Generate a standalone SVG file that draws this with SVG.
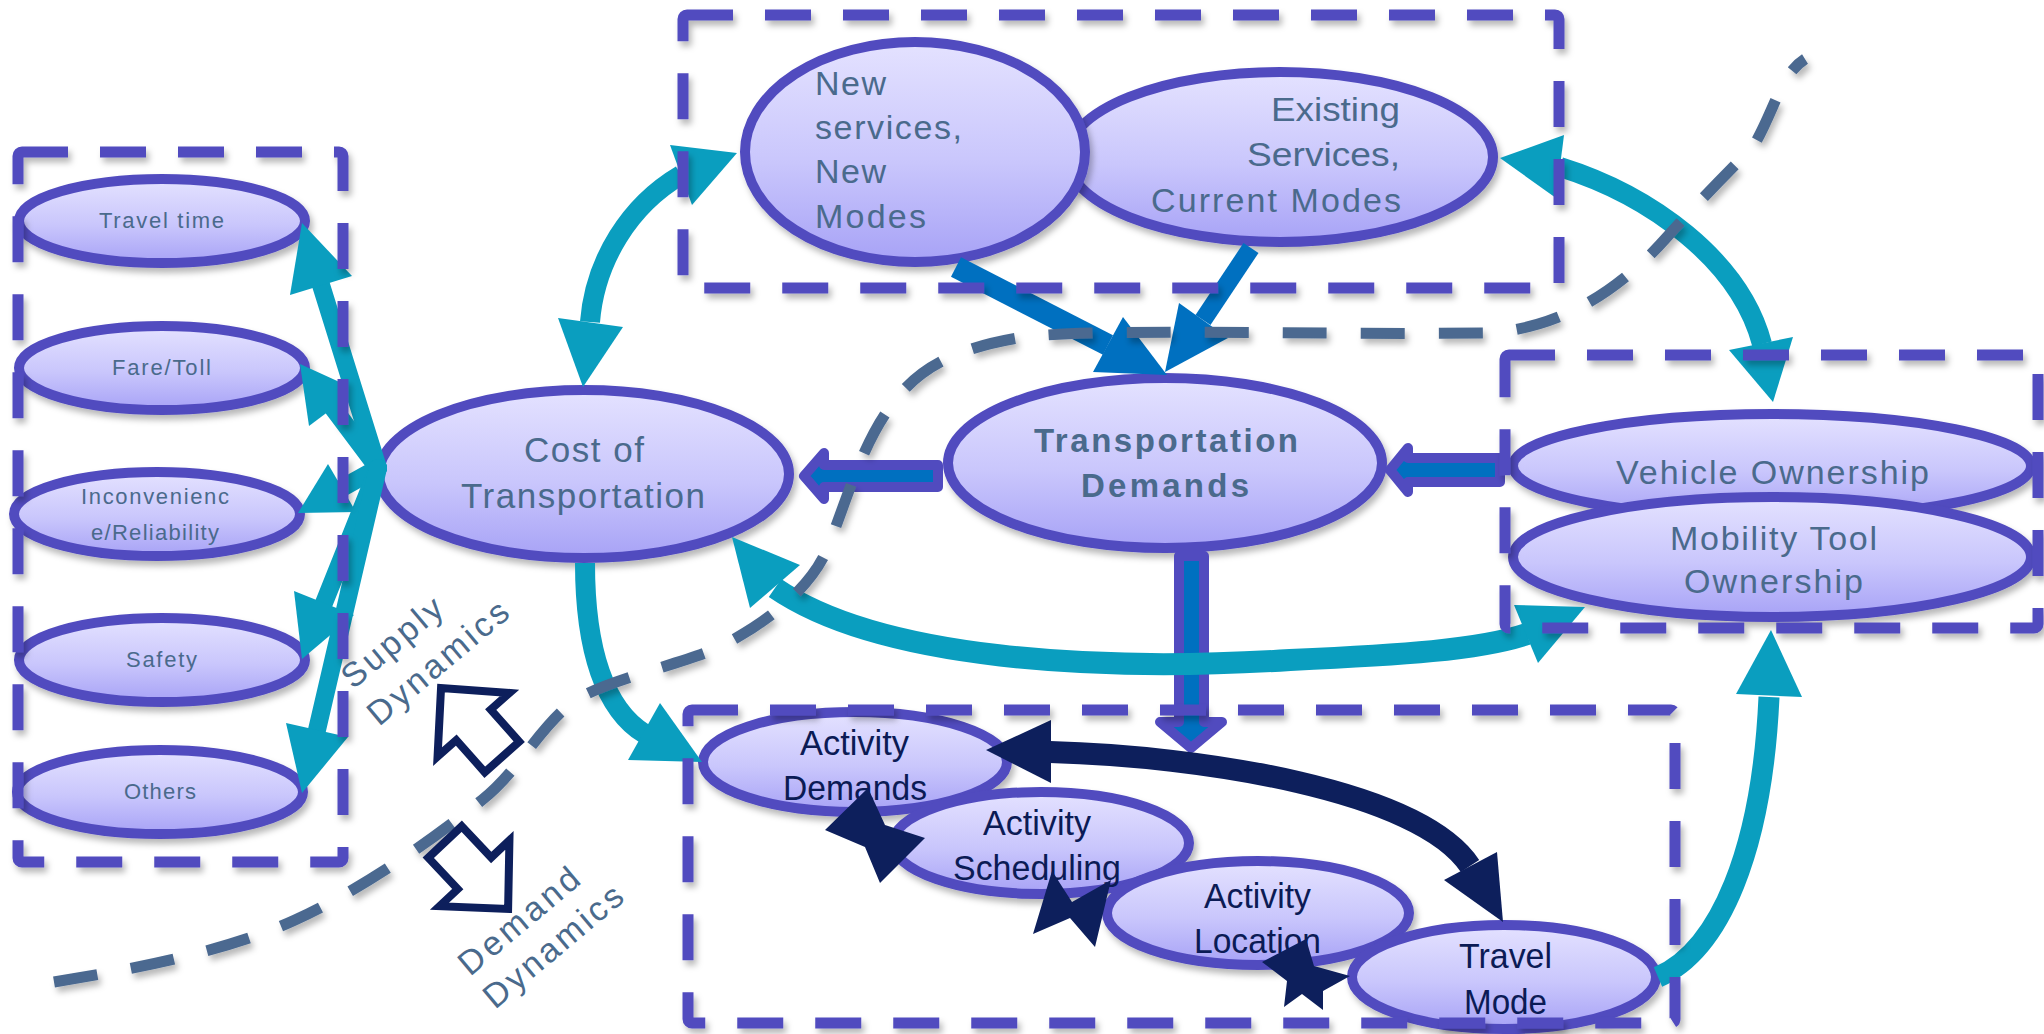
<svg xmlns="http://www.w3.org/2000/svg" width="2044" height="1034" viewBox="0 0 2044 1034">
  <defs>
    <linearGradient id="nodeFill" x1="0" y1="0" x2="0" y2="1">
      <stop offset="0" stop-color="#E4E2FF"/>
      <stop offset="0.55" stop-color="#C9C6FC"/>
      <stop offset="1" stop-color="#A7A2F6"/>
    </linearGradient>
    <filter id="shadow" x="-10%" y="-10%" width="125%" height="135%">
      <feDropShadow dx="3" dy="5" stdDeviation="3" flood-color="#000" flood-opacity="0.28"/>
    </filter>
    <style>
      .node ellipse { fill: url(#nodeFill); stroke: #514BBF; stroke-width: 10; filter: url(#shadow); }
      .lbl { font-family: "Liberation Sans", Arial, sans-serif; fill: #4A6A8C; }
      .small { font-size: 22px; }
      .big { font-size: 34px; }
      .bold { font-weight: bold; font-size: 33px; }
      .act { font-family: "Liberation Sans", Arial, sans-serif; font-size: 35px; fill: #0B1B55; }
      .teal { fill: none; stroke: #0A9EBF; }
      .tealHead { fill: #0A9EBF; }
      .blue { fill: none; stroke: #0070C0; }
      .blueHead { fill: #0070C0; }
      .navy { fill: none; stroke: #0D1F5C; }
      .navyHead { fill: #0D1F5C; }
      .block { fill: #0070C0; stroke: #514BBF; stroke-width: 10; stroke-linejoin: round; }
      .hollow { fill: #FFFFFF; stroke: #0D1F5C; stroke-width: 8; stroke-linejoin: miter; }
      .box { fill: none; stroke: #514BBF; stroke-width: 11; stroke-dasharray: 46 32; filter: url(#shadow); }
      .divide { fill: none; stroke: #4B6990; stroke-width: 11; stroke-dasharray: 44 34; filter: url(#shadow); }
      .dyn { font-family: "Liberation Sans", Arial, sans-serif; font-size: 34px; fill: #4A6A8C; }
    </style>
  </defs>

  <rect width="2044" height="1034" fill="#FFFFFF"/>

  <!-- attribute nodes on the left -->
  <g id="node-travel-time" class="node">
    <ellipse cx="162" cy="221" rx="143" ry="42"/>
    <text class="lbl small" x="99" y="228" textLength="125" lengthAdjust="spacing">Travel time</text>
  </g>
  <g id="node-fare-toll" class="node">
    <ellipse cx="162" cy="368" rx="143" ry="42"/>
    <text class="lbl small" x="112" y="375" textLength="99" lengthAdjust="spacing">Fare/Toll</text>
  </g>
  <g id="node-inconvenience" class="node">
    <ellipse cx="157" cy="514" rx="143" ry="42"/>
    <text class="lbl small" x="81" y="504" textLength="148" lengthAdjust="spacing">Inconvenienc</text>
    <text class="lbl small" x="91" y="540" textLength="128" lengthAdjust="spacing">e/Reliability</text>
  </g>
  <g id="node-safety" class="node">
    <ellipse cx="162" cy="660" rx="143" ry="42"/>
    <text class="lbl small" x="126" y="667" textLength="71" lengthAdjust="spacing">Safety</text>
  </g>
  <g id="node-others" class="node">
    <ellipse cx="160" cy="792" rx="143" ry="42"/>
    <text class="lbl small" x="124" y="799" textLength="72" lengthAdjust="spacing">Others</text>
  </g>

  <!-- supply side -->
  <g id="node-existing-services" class="node">
    <ellipse cx="1280" cy="157" rx="213" ry="85"/>
    <text class="lbl big" x="1271" y="121" textLength="129" lengthAdjust="spacingAndGlyphs">Existing</text>
    <text class="lbl big" x="1247" y="166" textLength="153" lengthAdjust="spacingAndGlyphs">Services,</text>
    <text class="lbl big" x="1151" y="212" textLength="250" lengthAdjust="spacing">Current Modes</text>
  </g>
  <g id="node-new-services" class="node">
    <ellipse cx="915" cy="152" rx="170" ry="110"/>
    <text class="lbl big" x="815" y="95" textLength="71" lengthAdjust="spacing">New</text>
    <text class="lbl big" x="815" y="139" textLength="147" lengthAdjust="spacing">services,</text>
    <text class="lbl big" x="815" y="183" textLength="71" lengthAdjust="spacing">New</text>
    <text class="lbl big" x="815" y="228" textLength="111" lengthAdjust="spacing">Modes</text>
  </g>
  <g id="node-cost" class="node">
    <ellipse cx="584" cy="474" rx="205" ry="84"/>
    <text class="lbl" font-size="35" x="524" y="462" textLength="120" lengthAdjust="spacing">Cost of</text>
    <text class="lbl" font-size="35" x="461" y="508" textLength="244" lengthAdjust="spacing">Transportation</text>
  </g>
  <g id="node-demands" class="node">
    <ellipse cx="1165" cy="463" rx="217" ry="85"/>
    <text class="lbl bold" x="1034" y="452" textLength="264" lengthAdjust="spacing">Transportation</text>
    <text class="lbl bold" x="1081" y="497" textLength="168" lengthAdjust="spacing">Demands</text>
  </g>
  <g id="node-vehicle" class="node">
    <ellipse cx="1772" cy="466" rx="259" ry="52"/>
    <text class="lbl big" x="1616" y="484" textLength="313" lengthAdjust="spacing">Vehicle Ownership</text>
  </g>
  <g id="node-mobility" class="node">
    <ellipse cx="1772" cy="557" rx="259" ry="60"/>
    <text class="lbl big" x="1670" y="550" textLength="207" lengthAdjust="spacing">Mobility Tool</text>
    <text class="lbl big" x="1684" y="593" textLength="179" lengthAdjust="spacing">Ownership</text>
  </g>

  <!-- activity chain -->
  <g id="node-activity-demands" class="node">
    <ellipse cx="855" cy="762" rx="152" ry="50"/>
    <text class="act" x="800" y="755" textLength="109" lengthAdjust="spacingAndGlyphs">Activity</text>
    <text class="act" x="783" y="800" textLength="144" lengthAdjust="spacingAndGlyphs">Demands</text>
  </g>
  <g id="node-activity-scheduling" class="node">
    <ellipse cx="1041" cy="843" rx="148" ry="51"/>
    <text class="act" x="983" y="835" textLength="108" lengthAdjust="spacingAndGlyphs">Activity</text>
    <text class="act" x="953" y="880" textLength="168" lengthAdjust="spacingAndGlyphs">Scheduling</text>
  </g>
  <g id="node-activity-location" class="node">
    <ellipse cx="1258" cy="913" rx="151" ry="52"/>
    <text class="act" x="1204" y="908" textLength="107" lengthAdjust="spacingAndGlyphs">Activity</text>
    <text class="act" x="1194" y="953" textLength="127" lengthAdjust="spacingAndGlyphs">Location</text>
  </g>
  <g id="node-travel-mode" class="node">
    <ellipse cx="1504" cy="977" rx="152" ry="52"/>
    <text class="act" x="1459" y="968" textLength="93" lengthAdjust="spacingAndGlyphs">Travel</text>
    <text class="act" x="1464" y="1014" textLength="83" lengthAdjust="spacingAndGlyphs">Mode</text>
  </g>

  <!-- connectors -->
  <g id="connectors">
    <!-- fan from cost to attribute nodes -->
    <g class="teal" stroke-width="18" stroke-linecap="round">
      <line x1="378" y1="468" x2="321" y2="285"/>
      <line x1="378" y1="468" x2="333" y2="408"/>
      <line x1="378" y1="468" x2="342" y2="488"/>
      <line x1="378" y1="468" x2="324" y2="603"/>
      <line x1="378" y1="468" x2="317" y2="730"/>
    </g>
    <polygon class="tealHead" points="302,223 352,276 290,295"/>
    <polygon class="tealHead" points="300,364 357,390 309,426"/>
    <polygon class="tealHead" points="298,513 356,512 328,464"/>
    <polygon class="tealHead" points="302,659 354,615 294,591"/>
    <polygon class="tealHead" points="302,793 348,737 286,723"/>

    <!-- cost <-> new services -->
    <path class="teal" stroke-width="20" d="M590,322 C595,260 630,205 681,175"/>
    <polygon class="tealHead" points="737,153 670,145 692,205"/>
    <polygon class="tealHead" points="583,387 558,318 623,327"/>

    <!-- existing services <-> vehicle ownership -->
    <path class="teal" stroke-width="20" d="M1560,167 C1650,195 1740,260 1762,344"/>
    <polygon class="tealHead" points="1500,158 1564,135 1556,198"/>
    <polygon class="tealHead" points="1773,402 1729,350 1793,337"/>

    <!-- services -> transportation demands -->
    <line class="blue" stroke-width="22" x1="956" y1="267" x2="1108" y2="345"/>
    <polygon class="blueHead" points="1167,375 1123,317 1093,372"/>
    <line class="blue" stroke-width="18" x1="1251" y1="248" x2="1203" y2="320"/>
    <polygon class="blueHead" points="1165,372 1179,303 1228,338"/>

    <!-- block arrows around transportation demands -->
    <polygon class="block" points="938,465 824,465 824,453 804,476 824,499 824,487 938,487"/>
    <polygon class="block" points="1500,458 1408,458 1408,448 1390,470 1408,492 1408,482 1500,482"/>
    <polygon class="block" points="1179,556 1179,722 1160,722 1191,748 1222,722 1204,722 1204,556"/>

    <!-- cost -> activity demands -->
    <path class="teal" stroke-width="20" d="M585,563 C585,650 605,710 645,734"/>
    <polygon class="tealHead" points="702,762 628,760 660,703"/>

    <!-- cost <-> mobility tool ownership -->
    <path class="teal" stroke-width="22" d="M775,588 C880,660 1100,672 1290,660 C1400,655 1480,650 1527,634"/>
    <polygon class="tealHead" points="732,537 750,608 800,565"/>
    <polygon class="tealHead" points="1585,607 1514,605 1538,663"/>

    <!-- travel mode -> mobility tool ownership -->
    <path class="teal" stroke-width="21" d="M1658,977 C1720,950 1762,850 1769,697"/>
    <polygon class="tealHead" points="1771,630 1736,694 1802,697"/>

    <!-- activity demands <-> travel mode -->
    <path class="navy" stroke-width="22" d="M1050,752 C1200,756 1420,790 1470,866"/>
    <polygon class="navyHead" points="986,750 1051,720 1051,783"/>
    <polygon class="navyHead" points="1503,922 1444,880 1497,852"/>

    <!-- short two-way links along the activity chain -->
    <polygon class="navyHead" points="825,830 868,788 885,825 925,838 880,883 865,847"/>
    <polygon class="navyHead" points="1033,934 1052,871 1072,902 1111,880 1095,947 1070,918"/>
    <polygon class="navyHead" points="1262,962 1306,939 1314,966 1350,976 1323,991 1323,1010 1302,994 1284,1007 1287,981"/>
  </g>

  <!-- grouping frames -->
  <g id="frames">
    <rect class="box" x="18" y="152" width="325" height="710" rx="4"/>
    <rect class="box" x="683" y="15" width="876" height="273" rx="4"/>
    <rect class="box" x="1505" y="355" width="533" height="273" rx="4"/>
    <rect class="box" x="688" y="710" width="987" height="313" rx="4"/>
  </g>

  <!-- supply / demand divide -->
  <path id="divide" class="divide" d="M54,982 C140,968 230,950 295,920 C350,895 420,850 482,800 C520,770 540,725 576,700 C610,678 700,660 727,643 C780,615 815,580 828,547 C845,505 860,450 888,410 C910,378 940,350 1024,337 C1100,328 1300,335 1484,333 C1560,330 1620,290 1667,237 C1700,200 1740,160 1753,147 C1775,110 1780,75 1805,59"/>

  <g id="dynamics">
    <polygon class="hollow" transform="translate(502,757) rotate(-131.5)" points="0,-23 43,-23 43,-48 92,0 43,48 43,23 0,23"/>
    <polygon class="hollow" transform="translate(445,842) rotate(46.7)" points="0,-23 43,-23 43,-48 92,0 43,48 43,23 0,23"/>
    <text class="dyn" x="353" y="690" transform="rotate(-40 353 690)" textLength="121" lengthAdjust="spacing">Supply</text>
    <text class="dyn" x="379" y="727" transform="rotate(-40 379 727)" textLength="173" lengthAdjust="spacing">Dynamics</text>
    <text class="dyn" x="470" y="977" transform="rotate(-40 470 977)" textLength="147" lengthAdjust="spacing">Demand</text>
    <text class="dyn" x="495" y="1010" transform="rotate(-40 495 1010)" textLength="171" lengthAdjust="spacing">Dynamics</text>
  </g>
</svg>
